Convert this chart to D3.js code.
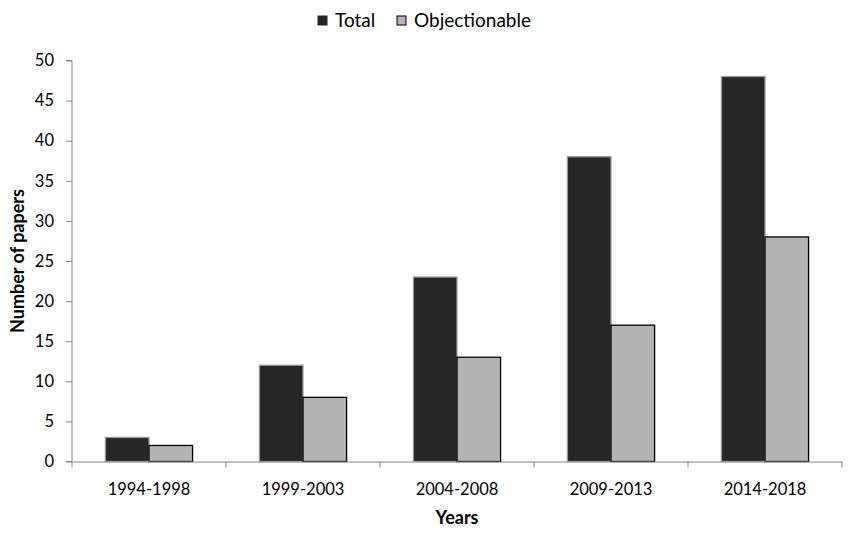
<!DOCTYPE html>
<html>
<meta charset='utf-8'>
<head>
<script src='https://d3js.org/d3.v7.min.js'></script>
<style>
body { margin: 0; background: #fff; }
text { font-family: Lato, 'Open Sans', sans-serif; fill: #000; }
</style>
</head>
<body>
<div id='chart'></div>
<script>
var periods = ['1994-1998', '1999-2003', '2004-2008', '2009-2013', '2014-2018'];
var seriesNames = ['Total', 'Objectionable'];
var total = [3, 12, 23, 38, 48];
var objectionable = [2, 8, 13, 17, 28];
var yTicks = [0, 5, 10, 15, 20, 25, 30, 35, 40, 45, 50];

var fills = {'Total': '#262626', 'Objectionable': '#b3b3b3'};
var strokes = {'Total': '#999999', 'Objectionable': '#000000'};

var margin = {top: 60.5, right: 18, bottom: 75.5, left: 72},
    width = 860 - margin.left - margin.right,
    height = 537 - margin.top - margin.bottom;

var svg = d3.select('#chart')
    .append('svg')
    .attr('width', 860)
    .attr('height', 537)
    .append('g')
    .attr('transform', 'translate(' + margin.left + ',' + margin.top + ')');

var x = d3.scaleBand()
    .domain(periods)
    .range([0, width])
    .paddingInner(0)
    .paddingOuter(0);

var x1 = d3.scaleBand()
    .domain(seriesNames)
    .range([x.bandwidth() * 0.217, x.bandwidth() * 0.783]);

var y = d3.scaleLinear()
    .domain([0, 50])
    .range([height, 0]);

var rows = periods.map(function(p, i) {
    return {period: p, values: [
        {key: 'Total', value: total[i]},
        {key: 'Objectionable', value: objectionable[i]}
    ]};
});

// y axis
var yAxis = svg.append('g')
    .call(d3.axisLeft(y).tickValues(yTicks).tickSize(6).tickPadding(12));
yAxis.selectAll('path, line').attr('stroke', '#868686');
yAxis.select('.domain').attr('d', 'M-6,' + height + 'H0V0H-6');
yAxis.selectAll('text').style('font-size', '16.5px');

// bars
var groups = svg.selectAll('.group')
    .data(rows)
    .enter()
    .append('g')
    .attr('class', 'group')
    .attr('transform', function(d) { return 'translate(' + x(d.period) + ',0)'; });

groups.selectAll('rect')
    .data(function(d) { return d.values; })
    .enter()
    .append('rect')
    .attr('x', function(d) { return x1(d.key); })
    .attr('width', x1.bandwidth())
    .attr('y', function(d) { return y(d.value); })
    .attr('height', function(d) { return height - y(d.value); })
    .style('fill', function(d) { return fills[d.key]; })
    .style('stroke', function(d) { return strokes[d.key]; })
    .style('stroke-width', 1.3);

// x axis
var xAxis = svg.append('g')
    .attr('transform', 'translate(0,' + height + ')')
    .call(d3.axisBottom(x).tickSize(0).tickPadding(22));
xAxis.select('.domain').attr('stroke', '#868686');
xAxis.selectAll('text').style('font-size', '16.5px');

svg.append('g')
    .attr('transform', 'translate(0,' + height + ')')
    .selectAll('line')
    .data(periods.concat(['end']))
    .enter()
    .append('line')
    .attr('x1', function(d) { return d === 'end' ? width : x(d); })
    .attr('x2', function(d) { return d === 'end' ? width : x(d); })
    .attr('y1', 0)
    .attr('y2', 6)
    .attr('stroke', '#868686');

// axis titles
svg.append('text')
    .attr('x', width / 2)
    .attr('y', height + 62)
    .attr('text-anchor', 'middle')
    .style('font-size', '18px')
    .style('font-weight', 'bold')
    .text('Years');

svg.append('text')
    .attr('transform', 'translate(-48,' + (height / 2) + ') rotate(-90)')
    .attr('text-anchor', 'middle')
    .style('font-size', '18px')
    .style('font-weight', 'bold')
    .text('Number of papers');

// legend
var legendX = {'Total': 318, 'Objectionable': 397};
var legend = d3.select('svg').selectAll('.legend')
    .data(seriesNames)
    .enter()
    .append('g')
    .attr('class', 'legend')
    .attr('transform', function(d) { return 'translate(' + legendX[d] + ',16)'; });

legend.append('rect')
    .attr('width', 9)
    .attr('height', 9)
    .style('fill', function(d) { return fills[d]; })
    .style('stroke', function(d) { return d === 'Total' ? '#262626' : '#000'; })
    .style('stroke-width', 1);

legend.append('text')
    .attr('x', 17)
    .attr('y', 11)
    .style('font-size', '19px')
    .text(function(d) { return d; });
</script>
</body>
</html>
